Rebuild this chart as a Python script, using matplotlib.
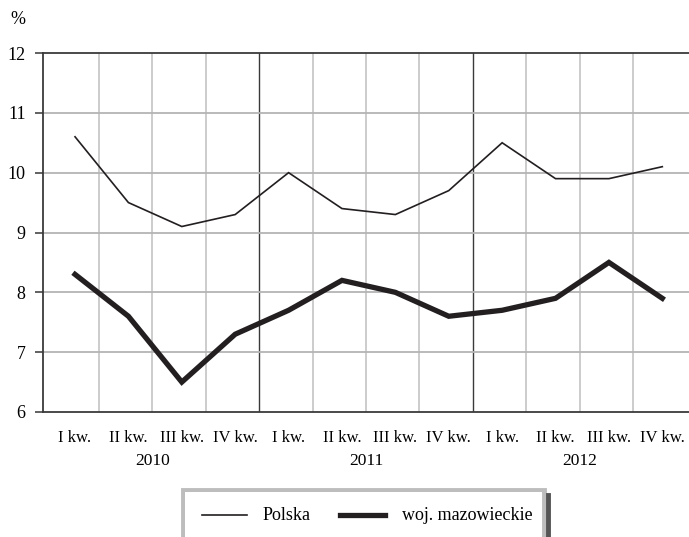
import matplotlib
matplotlib.use("Agg")
import matplotlib.pyplot as plt
from matplotlib.patches import Rectangle
from matplotlib.lines import Line2D

quarters = ["I kw.", "II kw.", "III kw.", "IV kw."] * 3
years = ["2010", "2011", "2012"]
polska = [10.6, 9.5, 9.1, 9.3, 10.0, 9.4, 9.3, 9.7, 10.5, 9.9, 9.9, 10.1]
mazowieckie = [8.3, 7.6, 6.5, 7.3, 7.7, 8.2, 8.0, 7.6, 7.7, 7.9, 8.5, 7.9]
yticks = [6, 7, 8, 9, 10, 11, 12]

plt.rcParams['font.family'] = ['Liberation Serif', 'DejaVu Serif']
W, H = 689, 537
fig = plt.figure(figsize=(W / 100, H / 100), dpi=100)
ax = fig.add_axes([43 / W, 1 - 412 / H, (W - 43) / W, (412 - 53) / H])

dark = '#231f20'
x = list(range(len(polska)))
ax.set_xlim(-0.6, 11.5)
ax.set_ylim(6, 12)

# grid lines
for k in range(1, 12):
    xv = k - 0.55
    if k % 4 == 0:
        ax.axvline(xv, color='#3a3a3a', lw=1.0, zorder=1)
    else:
        ax.axvline(xv, color='#c8c8c8', lw=1.3, zorder=1)
for yv in yticks[1:-1]:
    ax.axhline(yv, color='#b4b4b4', lw=1.3, zorder=1)

ax.plot(x, polska, color=dark, lw=1.2, zorder=3, solid_joinstyle='miter')
ax.plot(x, mazowieckie, color=dark, lw=3.8, zorder=3, solid_joinstyle='miter')

ax.spines['right'].set_visible(False)
for s in ['left', 'top', 'bottom']:
    ax.spines[s].set_color('#3a3a3a')
    ax.spines[s].set_linewidth(1.3)

ax.set_yticks(yticks)
ax.set_yticklabels([str(v) for v in yticks], fontsize=13)
ax.tick_params(axis='y', length=6, width=1.3, color='#555555', pad=6.5)
ax.set_xticks(x)
ax.set_xticklabels(quarters, fontsize=12)
ax.tick_params(axis='x', length=0, pad=13)

for i, yr in enumerate(years):
    ax.text(4 * i + 1.45, -0.137, yr, transform=ax.get_xaxis_transform(),
            ha='center', va='center', fontsize=12.5)

fig.text(18 / W, 1 - 20 / H, '%', ha='center', va='center', fontsize=13)

# legend box
fig.patches.append(Rectangle((183 / W, 0), (544 - 183) / W, 1 - 490 / H,
                             transform=fig.transFigure, fill=False,
                             edgecolor='#bdbdbd', lw=3.5))
fig.lines.append(Line2D([548 / W, 548 / W], [0, 1 - 495 / H],
                        transform=fig.transFigure, color='#555555', lw=3.5))
fig.patches.append(Rectangle((185 / W, -0.05), (542 - 185) / W, 1 - 492 / H + 0.05,
                             transform=fig.transFigure, facecolor='white',
                             edgecolor='none'))
ly = 1 - 515 / H
fig.lines.append(Line2D([202 / W, 247 / W], [ly, ly], transform=fig.transFigure,
                        color=dark, lw=1.2))
fig.text(263 / W, ly, 'Polska', ha='left', va='center', fontsize=13)
fig.lines.append(Line2D([340 / W, 385 / W], [ly, ly], transform=fig.transFigure,
                        color=dark, lw=3.8))
fig.text(402 / W, ly, 'woj. mazowieckie', ha='left', va='center', fontsize=13)

fig.savefig('out.png', dpi=100)
